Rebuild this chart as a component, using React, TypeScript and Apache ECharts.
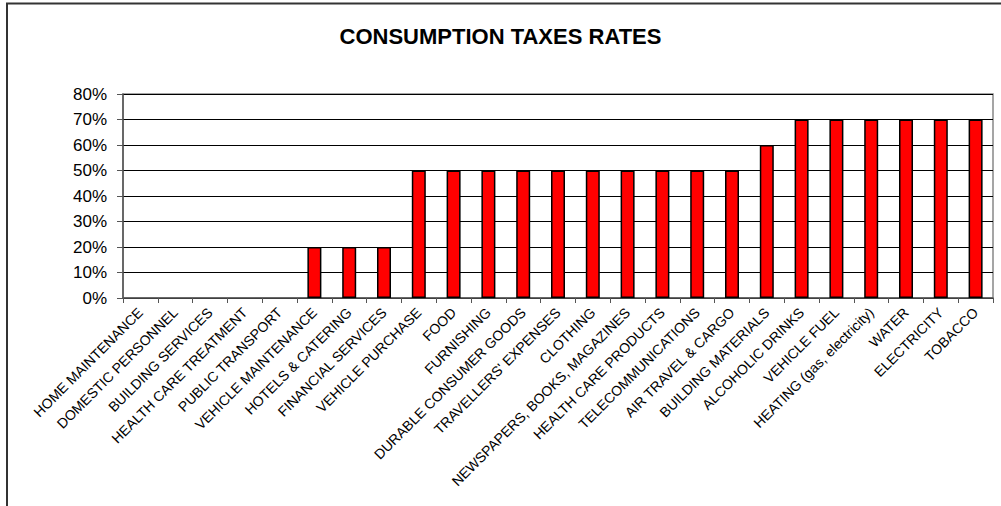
import React, { useEffect, useRef } from "react";
import * as echarts from "echarts";

const categories = [
  "HOME MAINTENANCE",
  "DOMESTIC PERSONNEL",
  "BUILDING SERVICES",
  "HEALTH CARE TREATMENT",
  "PUBLIC TRANSPORT",
  "VEHICLE MAINTENANCE",
  "HOTELS & CATERING",
  "FINANCIAL SERVICES",
  "VEHICLE PURCHASE",
  "FOOD",
  "FURNISHING",
  "DURABLE CONSUMER GOODS",
  "TRAVELLERS' EXPENSES",
  "CLOTHING",
  "NEWSPAPERS, BOOKS, MAGAZINES",
  "HEALTH CARE PRODUCTS",
  "TELECOMMUNICATIONS",
  "AIR TRAVEL & CARGO",
  "BUILDING MATERIALS",
  "ALCOHOLIC DRINKS",
  "VEHICLE FUEL",
  "HEATING (gas, electricity)",
  "WATER",
  "ELECTRICITY",
  "TOBACCO",
];

const rates = [0, 0, 0, 0, 0, 20, 20, 20, 50, 50, 50, 50, 50, 50, 50, 50, 50, 50, 60, 70, 70, 70, 70, 70, 70];

const title = "CONSUMPTION TAXES RATES";

const FONT = "Liberation Sans, Arial, sans-serif";

export default function App() {
  const ref = useRef<HTMLDivElement>(null);
  useEffect(() => {
    if (!ref.current) return;
    const chart = echarts.init(ref.current, undefined, { renderer: "svg" });
    chart.setOption({
      animation: false,
      backgroundColor: "#ffffff",
      textStyle: { fontFamily: FONT },
      title: {
        text: title,
        left: "center",
        top: 20,
        textStyle: { fontSize: 22, fontWeight: "bold", color: "#000", fontFamily: FONT },
      },
      graphic: [
        {
          type: "rect",
          shape: { x: 7, y: 3.5, width: 1010, height: 520 },
          style: { fill: "none", stroke: "#333", lineWidth: 2 },
          silent: true,
        },
      ],
      grid: {
        left: 123,
        top: 94,
        right: 8,
        bottom: 208,
        show: true,
        borderColor: "#888",
        borderWidth: 1.5,
      },
      xAxis: {
        type: "category",
        data: categories,
        axisLine: { lineStyle: { color: "#555", width: 1.5 } },
        axisTick: { show: true, alignWithLabel: false, length: 5, lineStyle: { color: "#555" } },
        axisLabel: {
          rotate: 45,
          interval: 0,
          fontSize: 14,
          color: "#000",
          margin: 12,
          fontFamily: FONT,
        },
      },
      yAxis: {
        type: "value",
        min: 0,
        max: 80,
        interval: 10,
        axisLine: { show: true, lineStyle: { color: "#555", width: 1.5 } },
        axisTick: { show: true, length: 6, lineStyle: { color: "#555" } },
        axisLabel: {
          formatter: "{value}%",
          fontSize: 17,
          color: "#000",
          margin: 16,
          fontFamily: FONT,
        },
        splitLine: { show: true, lineStyle: { color: "#000", width: 1 } },
      },
      series: [
        {
          type: "bar",
          data: rates.map((v) => (v === 0 ? { value: v, itemStyle: { borderWidth: 0 } } : v)),
          barWidth: 14,
          itemStyle: { color: "#ff0000", borderColor: "#000", borderWidth: 1.5 },
        },
      ],
    });
    return () => chart.dispose();
  }, []);
  return (
    <div
      ref={ref}
      style={{ position: "absolute", left: 0, top: 0, width: 1001, height: 506 }}
    />
  );
}
